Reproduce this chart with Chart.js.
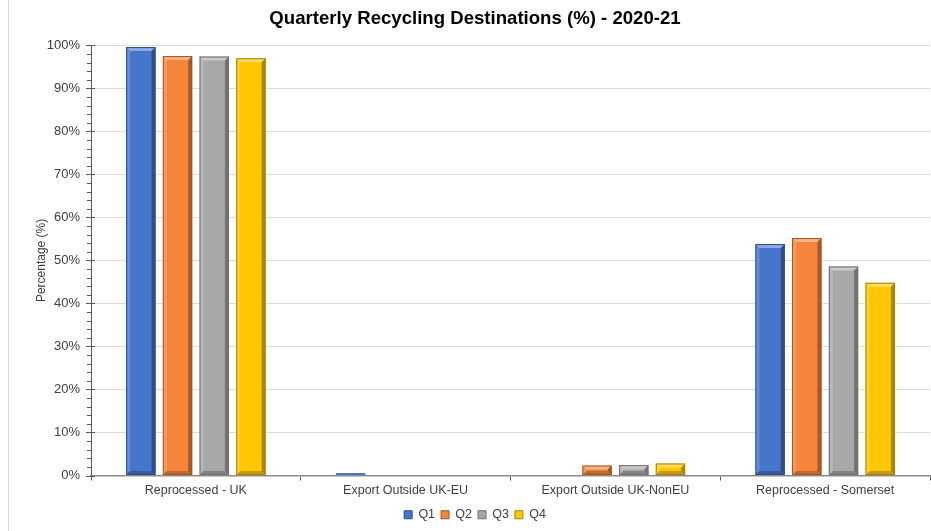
<!DOCTYPE html>
<html>
<head>
<meta charset="utf-8">
<title>Quarterly Recycling Destinations</title>
<script src="https://cdn.jsdelivr.net/npm/chart.js@4.4.1/dist/chart.umd.min.js"></script>
<style>
    html, body { margin: 0; padding: 0; background: #fff; }
    #wrap { width: 931px; height: 531px; position: relative; }
</style>
</head>
<body>
<div id="wrap"><canvas id="recycling-chart" width="931" height="531"></canvas></div>
<script>
    // Destinations along the x axis
    const destinations = ['Reprocessed - UK', 'Export Outside UK-EU', 'Export Outside UK-NonEU', 'Reprocessed - Somerset'];

    // Share of recycling per destination, one array per quarter (%)
    const q1 = [99.6, 0.3, 0, 53.8];
    const q2 = [97.5, 0, 2.3, 55.2];
    const q3 = [97.4, 0, 2.4, 48.6];
    const q4 = [97.0, 0, 2.8, 44.8];

    const quarterLabels = ['Q1', 'Q2', 'Q3', 'Q4'];
    const quarterColors = ['#4775CB', '#F5853A', '#A8A8A8', '#FFC700'];
    const quarterEdges = ['#2C4C88', '#A5531E', '#6E6E6E', '#A88300'];

    const FONT = 'Arial, "Liberation Sans", sans-serif';

    /**
     * Bevelled edges on every bar plus minor ticks on the value axis
     */
    const bevelPlugin = {
        id: 'bevel',
        beforeDraw(chart) {
            const ctx = chart.ctx;
            ctx.save();
            ctx.strokeStyle = '#D9D9D9';
            ctx.lineWidth = 1;
            ctx.beginPath();
            ctx.moveTo(8.5, 0);
            ctx.lineTo(8.5, chart.height);
            ctx.stroke();
            ctx.restore();
        },
        afterDatasetsDraw(chart) {
            const ctx = chart.ctx;
            ctx.save();
            chart.data.datasets.forEach((ds, i) => {
                const meta = chart.getDatasetMeta(i);
                meta.data.forEach(el => {
                    const h = el.base - el.y;
                    if (h <= 0) return;
                    const l = el.x - el.width / 2;
                    const r = el.x + el.width / 2;
                    const t = el.y;
                    const b = el.base;
                    if (h < 2) {
                        // too thin for a bevel, draw as a flat strip
                        ctx.fillStyle = quarterColors[i];
                        ctx.fillRect(l, b - 2, el.width, 2);
                        return;
                    }
                    const bv = Math.min(4, h / 2);

                    const poly = (pts, fill) => {
                        ctx.beginPath();
                        ctx.moveTo(pts[0][0], pts[0][1]);
                        pts.slice(1).forEach(p => ctx.lineTo(p[0], p[1]));
                        ctx.closePath();
                        ctx.fillStyle = fill;
                        ctx.fill();
                    };
                    // top
                    poly([[l, t], [r, t], [r - bv, t + bv], [l + bv, t + bv]], 'rgba(255,255,255,0.38)');
                    // left
                    poly([[l, t], [l + bv, t + bv], [l + bv, b - bv], [l, b]], 'rgba(255,255,255,0.18)');
                    // right
                    poly([[r, t], [r, b], [r - bv, b - bv], [r - bv, t + bv]], 'rgba(0,0,0,0.32)');
                    // bottom
                    poly([[l, b], [l + bv, b - bv], [r - bv, b - bv], [r, b]], 'rgba(0,0,0,0.22)');

                    ctx.strokeStyle = quarterEdges[i];
                    ctx.lineWidth = 1;
                    ctx.strokeRect(l + 0.5, t + 0.5, el.width - 1, h - 1);
                });
            });
            ctx.restore();
        },
        afterDraw(chart) {
            const y = chart.scales.y;
            const ctx = chart.ctx;
            const x0 = chart.chartArea.left;
            ctx.save();
            ctx.strokeStyle = '#595959';
            ctx.lineWidth = 1;
            ctx.beginPath();
            for (let v = 0; v <= 100; v += 2) {
                const py = Math.round(y.getPixelForValue(v)) + 0.5;
                const major = v % 10 === 0;
                ctx.moveTo(x0 - (major ? 5 : 4), py);
                ctx.lineTo(x0 + (major ? 4 : 0), py);
            }
            ctx.stroke();
            ctx.restore();
        }
    };

    function initChart() {
        const canvas = document.getElementById('recycling-chart');
        const ctx = canvas.getContext('2d');
        const series = [q1, q2, q3, q4];

        const chart = new Chart(ctx, {
            type: 'bar',
            data: {
                labels: destinations,
                datasets: series.map((values, i) => ({
                    label: quarterLabels[i],
                    data: values,
                    backgroundColor: quarterColors[i],
                    borderWidth: 0,
                    categoryPercentage: 0.7,
                    barPercentage: 0.8
                }))
            },
            options: {
                responsive: false,
                animation: false,
                devicePixelRatio: 1,
                layout: {
                    padding: { left: 20, right: 1, top: 0, bottom: 0 }
                },
                plugins: {
                    title: {
                        display: true,
                        text: 'Quarterly Recycling Destinations (%) - 2020-21',
                        color: '#000',
                        font: { family: FONT, size: 18.6, weight: 'bold' },
                        padding: { top: 8, bottom: 15 }
                    },
                    legend: {
                        position: 'bottom',
                        labels: {
                            color: '#404040',
                            font: { family: FONT, size: 12.5 },
                            boxWidth: 8,
                            boxHeight: 8,
                            padding: 6,
                            generateLabels(chart) {
                                return chart.data.datasets.map((ds, i) => ({
                                    text: ds.label,
                                    fillStyle: quarterColors[i],
                                    strokeStyle: quarterEdges[i],
                                    lineWidth: 1,
                                    datasetIndex: i,
                                    fontColor: '#404040'
                                }));
                            }
                        }
                    },
                    tooltip: { enabled: false }
                },
                scales: {
                    x: {
                        grid: {
                            offset: true,
                            drawOnChartArea: false,
                            drawTicks: true,
                            tickLength: 5,
                            color: '#595959'
                        },
                        border: { color: '#8C8C8C', width: 1.5 },
                        ticks: {
                            color: '#404040',
                            font: { family: FONT, size: 12.5 },
                            padding: 3,
                            maxRotation: 0
                        },
                        afterFit(scale) { scale.height = 27; }
                    },
                    y: {
                        min: 0,
                        max: 100,
                        grid: {
                            color: ctx => ctx.tick.value === 0 ? 'rgba(0,0,0,0)' : '#DDDDDD',
                            drawTicks: false,
                            lineWidth: 1
                        },
                        border: { color: '#595959', width: 1 },
                        ticks: {
                            stepSize: 10,
                            color: '#404040',
                            font: { family: FONT, size: 13 },
                            padding: 11,
                            callback: v => v + '%'
                        },
                        title: {
                            display: true,
                            text: 'Percentage (%)',
                            color: '#404040',
                            font: { family: FONT, size: 12 },
                            padding: { top: 14, bottom: 0 }
                        },
                        afterFit(scale) { scale.width = 71; }
                    }
                }
            },
            plugins: [bevelPlugin]
        });

        canvas.chartInstance = chart;
    }

    initChart();
</script>
</body>
</html>
